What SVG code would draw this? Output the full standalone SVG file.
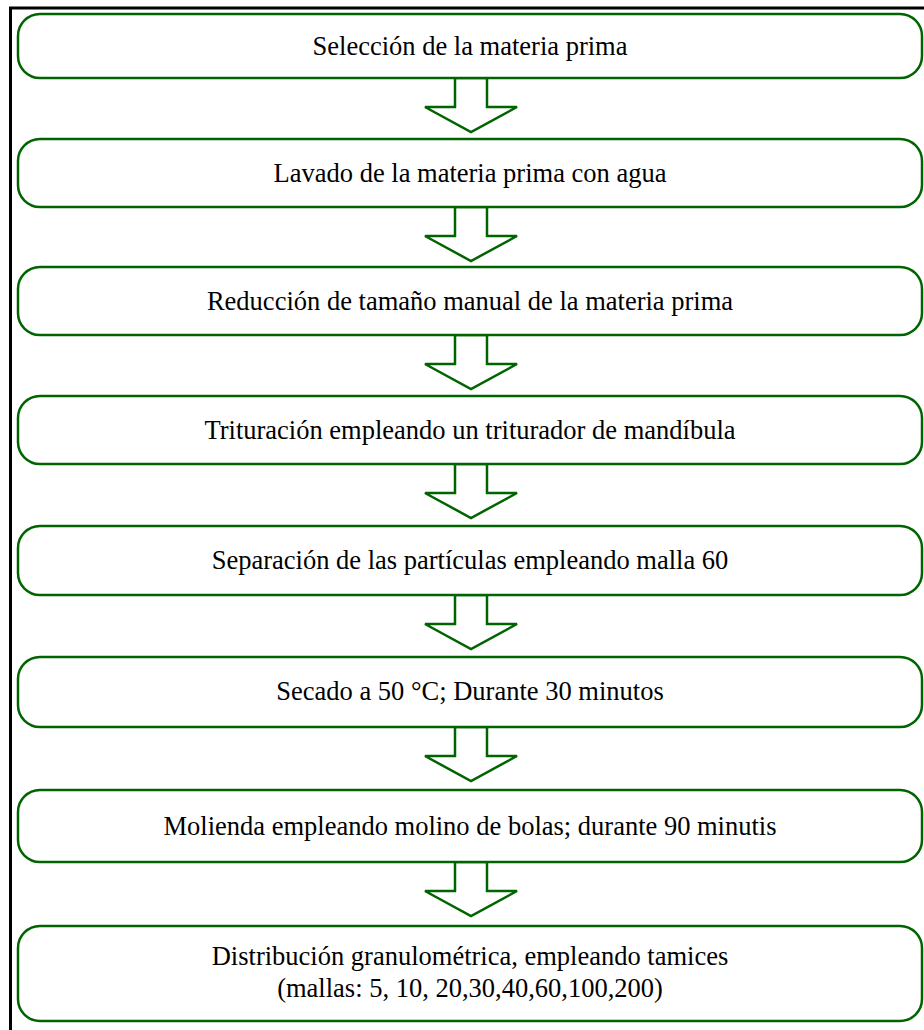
<svg xmlns="http://www.w3.org/2000/svg" width="924" height="1030" viewBox="0 0 924 1030">
  <style>
    .step { fill: #ffffff; stroke: #006400; stroke-width: 2.5; }
    .arrow { fill: #ffffff; stroke: #006400; stroke-width: 2.5; stroke-linejoin: miter; }
    .label { font-family: "Liberation Serif", "Times New Roman", serif; font-size: 26.5px; fill: #000000; text-anchor: middle; }
  </style>
  <defs>
    <!-- block arrow pointing down, origin at top centre of the shaft -->
    <path id="down" d="M -16,0 H 16 V 29 H 46 L 0,54 L -46,29 H -16 Z"/>
  </defs>

  <rect width="924" height="1030" fill="#ffffff"/>

  <!-- outer frame (left and top edges) -->
  <path d="M 10.5,1030 V 8 H 924" fill="none" stroke="#000000" stroke-width="3"/>

  <g id="connectors">
    <use href="#down" class="arrow" x="471" y="78"/>
    <use href="#down" class="arrow" x="471" y="207"/>
    <use href="#down" class="arrow" x="471" y="335"/>
    <use href="#down" class="arrow" x="471" y="464"/>
    <use href="#down" class="arrow" x="471" y="595"/>
    <use href="#down" class="arrow" x="471" y="727"/>
    <use href="#down" class="arrow" x="471" y="862"/>
  </g>

  <g id="step1">
    <rect class="step" x="18" y="14" width="904" height="64" rx="22" ry="22"/>
    <text class="label" x="470" y="55">Selección de la materia prima</text>
  </g>
  <g id="step2">
    <rect class="step" x="18" y="139" width="904" height="68" rx="22" ry="22"/>
    <text class="label" x="470" y="182">Lavado de la materia prima con agua</text>
  </g>
  <g id="step3">
    <rect class="step" x="18" y="267" width="904" height="68" rx="22" ry="22"/>
    <text class="label" x="470" y="310">Reducción de tamaño manual de la materia prima</text>
  </g>
  <g id="step4">
    <rect class="step" x="18" y="396" width="904" height="68" rx="22" ry="22"/>
    <text class="label" x="470" y="439">Trituración empleando un triturador de mandíbula</text>
  </g>
  <g id="step5">
    <rect class="step" x="18" y="526" width="904" height="69" rx="22" ry="22"/>
    <text class="label" x="470" y="569">Separación de las partículas empleando malla 60</text>
  </g>
  <g id="step6">
    <rect class="step" x="18" y="657" width="904" height="70" rx="22" ry="22"/>
    <text class="label" x="470" y="700">Secado a 50 °C; Durante 30 minutos</text>
  </g>
  <g id="step7">
    <rect class="step" x="18" y="790" width="904" height="72" rx="22" ry="22"/>
    <text class="label" x="470" y="835">Molienda empleando molino de bolas; durante 90 minutis</text>
  </g>
  <g id="step8">
    <rect class="step" x="18" y="926" width="904" height="95" rx="22" ry="22"/>
    <text class="label" x="470" y="965">Distribución granulométrica, empleando tamices</text>
    <text class="label" x="470" y="997">(mallas: 5, 10, 20,30,40,60,100,200)</text>
  </g>
</svg>
